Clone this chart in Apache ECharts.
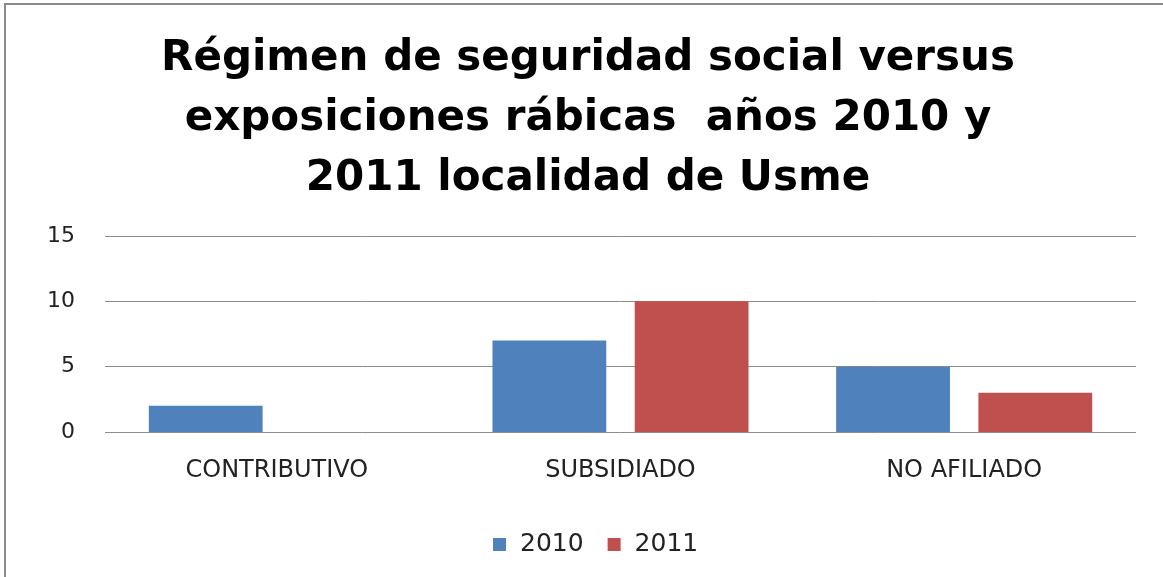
<!DOCTYPE html>
<html>
<head>
<meta charset="utf-8">
<script src="https://cdn.jsdelivr.net/npm/echarts@6/dist/echarts.min.js"></script>
<style>
  html, body { margin: 0; padding: 0; background: #fff; }
  #main { width: 1163px; height: 577px; }
</style>
</head>
<body>
<div id="main"></div>
<script>
// Data
var categories = ['CONTRIBUTIVO', 'SUBSIDIADO', 'NO AFILIADO'];
var seriesNames = ['2010', '2011'];
var values2010 = [2, 7, 5];
var values2011 = [0, 10, 3];
var titleText = 'Régimen de seguridad social versus\nexposiciones rábicas  años 2010 y\n2011 localidad de Usme';

var myChart = echarts.init(document.getElementById('main'));

var labelFont = 'DejaVu Sans';

var option = {
	backgroundColor: '#fff',
	animation: false,
	title: {
		text: titleText,
		left: 583,
		top: 24,
		textAlign: 'center',
		textStyle: {
			color: '#000',
			fontSize: 42,
			fontWeight: 'bold',
			fontFamily: 'DejaVu Sans',
			lineHeight: 60
		}
	},
	graphic: [{
		type: 'rect',
		shape: { x: 5, y: 4, width: 1300, height: 700 },
		style: { fill: 'none', stroke: '#8a8a8a', lineWidth: 2 },
		silent: true
	}],
	legend: {
		data: seriesNames,
		bottom: 15,
		left: 488,
		itemWidth: 13,
		itemHeight: 13,
		itemGap: 24,
		icon: 'rect',
		textStyle: {
			color: '#222',
			fontSize: 25,
			fontFamily: labelFont,
			padding: [0, 0, 0, 9]
		}
	},
	grid: {
		left: 105,
		right: 27,
		top: 236,
		bottom: 145,
		containLabel: false
	},
	xAxis: {
		type: 'category',
		data: categories,
		axisTick: { show: false },
		axisLine: { show: false },
		axisLabel: {
			color: '#222',
			fontSize: 24,
			fontFamily: labelFont,
			margin: 27
		}
	},
	yAxis: {
		type: 'value',
		min: 0,
		max: 15,
		interval: 5,
		axisLine: { show: false },
		axisTick: { show: false },
		splitLine: {
			lineStyle: { color: '#8c8c8c', width: 1 }
		},
		axisLabel: {
			color: '#222',
			fontSize: 22,
			fontFamily: labelFont,
			margin: 30
		}
	},
	series: [{
		name: seriesNames[0],
		type: 'bar',
		data: values2010,
		barGap: '25%',
		barCategoryGap: '25.5%',
		itemStyle: { color: '#4f81bd' }
	}, {
		name: seriesNames[1],
		type: 'bar',
		data: values2011,
		itemStyle: { color: '#c0504d' }
	}]
};

myChart.setOption(option);
</script>
</body>
</html>
